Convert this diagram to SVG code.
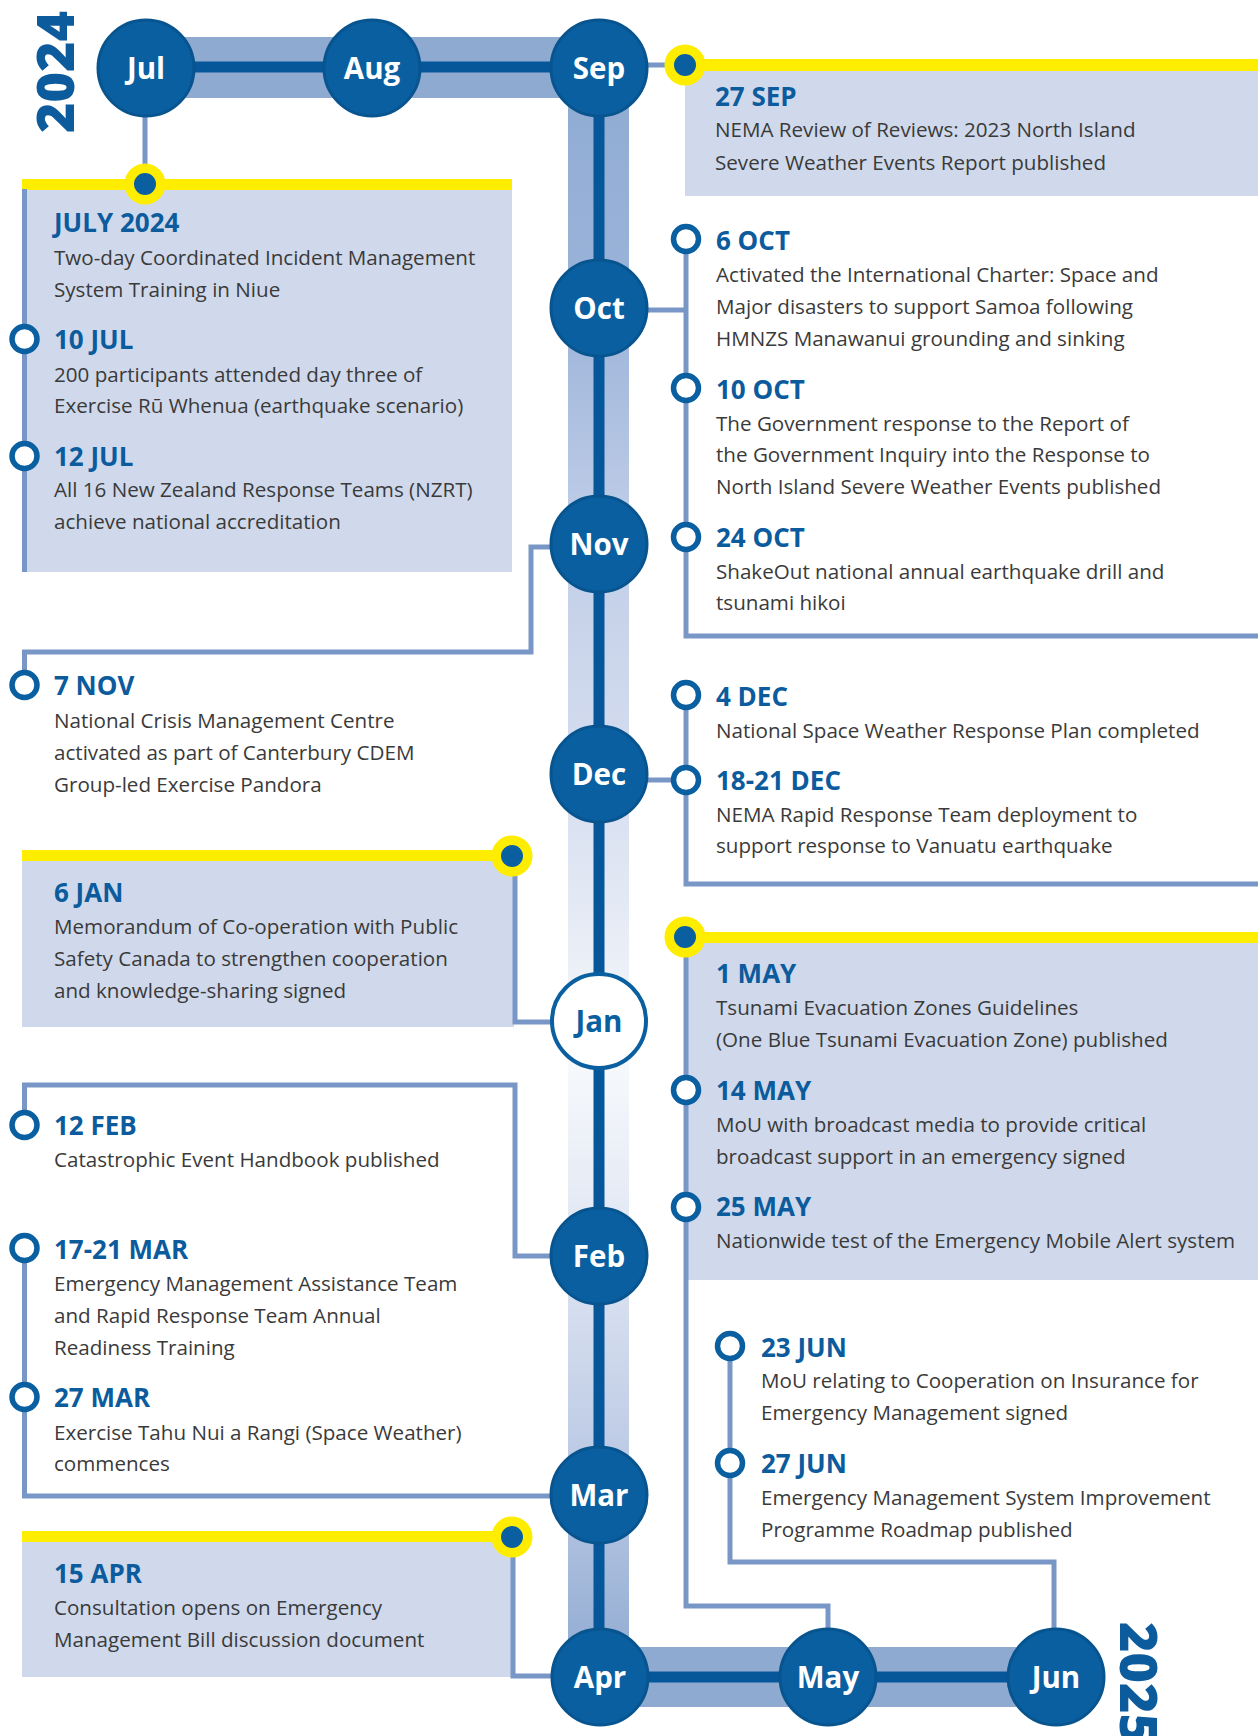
<svg xmlns="http://www.w3.org/2000/svg" width="1258" height="1736" viewBox="0 0 1258 1736">
<defs>
<linearGradient id="bandGrad" gradientUnits="userSpaceOnUse" x1="0" y1="37" x2="0" y2="1715">
<stop offset="0" stop-color="#8eaad1"/>
<stop offset="0.157" stop-color="#9bb3d9"/>
<stop offset="0.302" stop-color="#c2cfe8"/>
<stop offset="0.439" stop-color="#d5ddef"/>
<stop offset="0.514" stop-color="#e3e9f4"/>
<stop offset="0.61" stop-color="#f7f9fc"/>
<stop offset="0.726" stop-color="#dee5f2"/>
<stop offset="0.869" stop-color="#b6c5e2"/>
<stop offset="0.977" stop-color="#8eaad1"/>
</linearGradient>
<style>
.box{fill:#cfd9eb}
.ybar{fill:#ffed00}
.conn{fill:none;stroke:#7897c6;stroke-width:5}
.month{fill:#0a5fa1;stroke:#08548f;stroke-width:3}
.mlabel{font-family:"Open Sans","Liberation Sans",sans-serif;font-weight:700;font-size:29.5px;fill:#ffffff;text-anchor:middle}
.ring{fill:#ffffff;stroke:#0a5fa1;stroke-width:5.5}
.ydot{fill:#0a5fa1;stroke:#ffed00;stroke-width:9.5}
.hd{font-family:"Open Sans","Liberation Sans",sans-serif;font-weight:700;font-size:26px;fill:#0b5b9d}
.bd{font-family:"Open Sans","Liberation Sans",sans-serif;font-size:20.6px;fill:#3a3a3a}
.year{font-family:"Open Sans","Liberation Sans",sans-serif;font-weight:800;font-size:52px;fill:#0b5b9d}
</style>
</defs>
<rect width="1258" height="1736" fill="#ffffff"/>

<!-- event box backgrounds -->
<g id="boxes">
<rect class="box" x="22" y="189" width="490" height="383"/>
<rect class="ybar" x="22" y="179" width="490" height="11"/>
<rect class="box" x="685" y="71" width="573" height="125"/>
<rect class="ybar" x="685" y="59" width="573" height="12"/>
<rect class="box" x="22" y="861" width="492" height="166"/>
<rect class="ybar" x="22" y="850" width="490" height="11"/>
<rect class="box" x="22" y="1542" width="490" height="135"/>
<rect class="ybar" x="22" y="1531" width="490" height="11"/>
<rect class="box" x="685" y="943" width="573" height="337"/>
<rect class="ybar" x="685" y="932" width="573" height="11"/>
</g>

<!-- timeline spine -->
<g id="spine">
<rect x="146" y="37" width="483" height="61" fill="#8eaad1"/>
<rect x="568" y="37" width="61" height="1678" fill="url(#bandGrad)"/>
<rect x="568" y="1647" width="488" height="60" fill="#8eaad1"/>
<path d="M146,67 H599 V1677 H1056" fill="none" stroke="#06569a" stroke-width="11"/>
</g>

<g id="connectors">
<path class="conn" d="M145,116 V184"/>
<path class="conn" d="M24.5,189 V572"/>
<path class="conn" d="M646,65 H685"/>
<path class="conn" d="M646,310 H686"/>
<path class="conn" d="M686,239 V636 H1258"/>
<path class="conn" d="M550,547 H531 V652 H24.5 V685"/>
<path class="conn" d="M646,780 H686"/>
<path class="conn" d="M686,695 V884 H1258"/>
<path class="conn" d="M551,1022 H515 V856"/>
<path class="conn" d="M551,1256 H515 V1085 H24.5 V1125"/>
<path class="conn" d="M24.5,1248 V1496 H551"/>
<path class="conn" d="M513,1537 V1676 H552"/>
<path class="conn" d="M686,937 V1606 H828 V1629"/>
<path class="conn" d="M730,1346 V1562 H1054 V1629"/>
</g>

<!-- month nodes -->
<g id="m-jul"><circle class="month" cx="146" cy="68" r="48"/><text class="mlabel" x="146" y="79">Jul</text></g>
<g id="m-aug"><circle class="month" cx="372" cy="68" r="48"/><text class="mlabel" x="372" y="79">Aug</text></g>
<g id="m-sep"><circle class="month" cx="599" cy="68" r="48"/><text class="mlabel" x="599" y="79">Sep</text></g>
<g id="m-oct"><circle class="month" cx="599" cy="308" r="48"/><text class="mlabel" x="599" y="319">Oct</text></g>
<g id="m-nov"><circle class="month" cx="599" cy="544" r="48"/><text class="mlabel" x="599" y="555">Nov</text></g>
<g id="m-dec"><circle class="month" cx="599" cy="774" r="48"/><text class="mlabel" x="599" y="785">Dec</text></g>
<g id="m-jan"><circle cx="599" cy="1021" r="47" fill="#ffffff" stroke="#0a5fa1" stroke-width="4"/><text class="mlabel" x="599" y="1032" style="fill:#0a5fa1">Jan</text></g>
<g id="m-feb"><circle class="month" cx="599" cy="1256" r="48"/><text class="mlabel" x="599" y="1267">Feb</text></g>
<g id="m-mar"><circle class="month" cx="599" cy="1495" r="48"/><text class="mlabel" x="599" y="1506">Mar</text></g>
<g id="m-apr"><circle class="month" cx="600" cy="1677" r="48"/><text class="mlabel" x="600" y="1688">Apr</text></g>
<g id="m-may"><circle class="month" cx="828" cy="1677" r="48"/><text class="mlabel" x="828" y="1688">May</text></g>
<g id="m-jun"><circle class="month" cx="1056" cy="1677" r="48"/><text class="mlabel" x="1056" y="1688">Jun</text></g>

<g id="year-2024"><text class="year" transform="translate(74,72) rotate(-90)" text-anchor="middle">2024</text></g>
<g id="year-2025"><text class="year" transform="translate(1120,1622) rotate(90)">2025</text></g>

<!-- event nodes -->
<g id="e-jul2024">
<circle class="ydot" cx="145" cy="184" r="15.75"/>
<text class="hd" x="54" y="232">JULY 2024</text>
<text class="bd" x="54" y="265">Two-day Coordinated Incident Management</text>
<text class="bd" x="54" y="297">System Training in Niue</text>
</g>
<g id="e-10jul">
<circle class="ring" cx="24.5" cy="339" r="12.5"/>
<text class="hd" x="54" y="349">10 JUL</text>
<text class="bd" x="54" y="382">200 participants attended day three of</text>
<text class="bd" x="54" y="413">Exercise Rū Whenua (earthquake scenario)</text>
</g>
<g id="e-12jul">
<circle class="ring" cx="24.5" cy="456" r="12.5"/>
<text class="hd" x="54" y="466">12 JUL</text>
<text class="bd" x="54" y="497">All 16 New Zealand Response Teams (NZRT)</text>
<text class="bd" x="54" y="529">achieve national accreditation</text>
</g>
<g id="e-27sep">
<circle class="ydot" cx="685" cy="65" r="15.75"/>
<text class="hd" x="715" y="106">27 SEP</text>
<text class="bd" x="715" y="137">NEMA Review of Reviews: 2023 North Island</text>
<text class="bd" x="715" y="170">Severe Weather Events Report published</text>
</g>
<g id="e-6oct">
<circle class="ring" cx="686" cy="239" r="12.5"/>
<text class="hd" x="716" y="250">6 OCT</text>
<text class="bd" x="716" y="282">Activated the International Charter: Space and</text>
<text class="bd" x="716" y="314">Major disasters to support Samoa following</text>
<text class="bd" x="716" y="346">HMNZS Manawanui grounding and sinking</text>
</g>
<g id="e-10oct">
<circle class="ring" cx="686" cy="388" r="12.5"/>
<text class="hd" x="716" y="399">10 OCT</text>
<text class="bd" x="716" y="431">The Government response to the Report of</text>
<text class="bd" x="716" y="462">the Government Inquiry into the Response to</text>
<text class="bd" x="716" y="494">North Island Severe Weather Events published</text>
</g>
<g id="e-24oct">
<circle class="ring" cx="686" cy="537" r="12.5"/>
<text class="hd" x="716" y="547">24 OCT</text>
<text class="bd" x="716" y="579">ShakeOut national annual earthquake drill and</text>
<text class="bd" x="716" y="610">tsunami hikoi</text>
</g>
<g id="e-7nov">
<circle class="ring" cx="24.5" cy="685" r="12.5"/>
<text class="hd" x="54" y="695">7 NOV</text>
<text class="bd" x="54" y="728">National Crisis Management Centre</text>
<text class="bd" x="54" y="760">activated as part of Canterbury CDEM</text>
<text class="bd" x="54" y="792">Group-led Exercise Pandora</text>
</g>
<g id="e-4dec">
<circle class="ring" cx="686" cy="695" r="12.5"/>
<text class="hd" x="716" y="706">4 DEC</text>
<text class="bd" x="716" y="738">National Space Weather Response Plan completed</text>
</g>
<g id="e-18dec">
<circle class="ring" cx="686" cy="780" r="12.5"/>
<text class="hd" x="716" y="790">18-21 DEC</text>
<text class="bd" x="716" y="822">NEMA Rapid Response Team deployment to</text>
<text class="bd" x="716" y="853">support response to Vanuatu earthquake</text>
</g>
<g id="e-6jan">
<circle class="ydot" cx="512" cy="856" r="15.75"/>
<text class="hd" x="54" y="902">6 JAN</text>
<text class="bd" x="54" y="934">Memorandum of Co-operation with Public</text>
<text class="bd" x="54" y="966">Safety Canada to strengthen cooperation</text>
<text class="bd" x="54" y="998">and knowledge-sharing signed</text>
</g>
<g id="e-12feb">
<circle class="ring" cx="24.5" cy="1125" r="12.5"/>
<text class="hd" x="54" y="1135">12 FEB</text>
<text class="bd" x="54" y="1167">Catastrophic Event Handbook published</text>
</g>
<g id="e-17mar">
<circle class="ring" cx="24.5" cy="1248" r="12.5"/>
<text class="hd" x="54" y="1259">17-21 MAR</text>
<text class="bd" x="54" y="1291">Emergency Management Assistance Team</text>
<text class="bd" x="54" y="1323">and Rapid Response Team Annual</text>
<text class="bd" x="54" y="1355">Readiness Training</text>
</g>
<g id="e-27mar">
<circle class="ring" cx="24.5" cy="1397" r="12.5"/>
<text class="hd" x="54" y="1407">27 MAR</text>
<text class="bd" x="54" y="1440">Exercise Tahu Nui a Rangi (Space Weather)</text>
<text class="bd" x="54" y="1471">commences</text>
</g>
<g id="e-15apr">
<circle class="ydot" cx="512" cy="1537" r="15.75"/>
<text class="hd" x="54" y="1583">15 APR</text>
<text class="bd" x="54" y="1615">Consultation opens on Emergency</text>
<text class="bd" x="54" y="1647">Management Bill discussion document</text>
</g>
<g id="e-1may">
<circle class="ydot" cx="685" cy="937" r="15.75"/>
<text class="hd" x="716" y="983">1 MAY</text>
<text class="bd" x="716" y="1015">Tsunami Evacuation Zones Guidelines</text>
<text class="bd" x="716" y="1047">(One Blue Tsunami Evacuation Zone) published</text>
</g>
<g id="e-14may">
<circle class="ring" cx="686" cy="1090" r="12.5"/>
<text class="hd" x="716" y="1100">14 MAY</text>
<text class="bd" x="716" y="1132">MoU with broadcast media to provide critical</text>
<text class="bd" x="716" y="1164">broadcast support in an emergency signed</text>
</g>
<g id="e-25may">
<circle class="ring" cx="686" cy="1207" r="12.5"/>
<text class="hd" x="716" y="1216">25 MAY</text>
<text class="bd" x="716" y="1248">Nationwide test of the Emergency Mobile Alert system</text>
</g>
<g id="e-23jun">
<circle class="ring" cx="730" cy="1346" r="12.5"/>
<text class="hd" x="761" y="1357">23 JUN</text>
<text class="bd" x="761" y="1388">MoU relating to Cooperation on Insurance for</text>
<text class="bd" x="761" y="1420">Emergency Management signed</text>
</g>
<g id="e-27jun">
<circle class="ring" cx="730" cy="1463" r="12.5"/>
<text class="hd" x="761" y="1473">27 JUN</text>
<text class="bd" x="761" y="1505">Emergency Management System Improvement</text>
<text class="bd" x="761" y="1537">Programme Roadmap published</text>
</g>
</svg>
